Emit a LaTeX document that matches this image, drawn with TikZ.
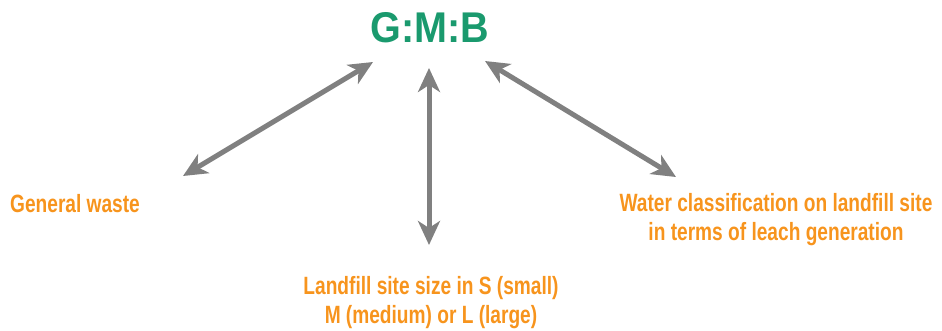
\documentclass[tikz,border=0pt]{standalone}
\usepackage{fontspec}
\setmainfont{Liberation Sans}[FakeStretch=0.765]
\newfontfamily\titlefont{Liberation Sans}[FakeStretch=0.92]
\usetikzlibrary{arrows.meta}
\definecolor{gmbgreen}{HTML}{1A9A6E}
\definecolor{lblorange}{HTML}{F7941D}
\definecolor{arrgray}{HTML}{808080}
\tikzset{
  lbl/.style={text=lblorange, font=\fontsize{25}{29}\selectfont\bfseries, align=center, inner sep=0pt},
  dbl/.style={draw=arrgray, line width=5pt, {Stealth[length=24pt,width=22pt,inset=7pt]}-{Stealth[length=24pt,width=22pt,inset=7pt]}}
}
\begin{document}
\begin{tikzpicture}[x=1pt,y=-1pt]
\useasboundingbox (0,0) rectangle (942,330);
\node[text=gmbgreen, font=\titlefont\fontsize{43}{43}\selectfont\bfseries, inner sep=0pt] (gmb) at (430,28) {G:M:B};
\node[lbl, anchor=west] (gw) at (10,204) {General waste};
\node[lbl] (ls) at (431,303) {Landfill site size in S (small)\\M (medium) or L (large)};
\node[lbl] (wc) at (776,220) {Water classification on landfill site\\in terms of leach generation};
\coordinate (a1) at (183,176);
\coordinate (b1) at (373,62);
\coordinate (a2) at (429,68);
\coordinate (b2) at (429,245);
\coordinate (a3) at (485,61);
\coordinate (b3) at (676,177);
\draw[dbl] (a1) -- (b1);
\draw[dbl] (a2) -- (b2);
\draw[dbl] (a3) -- (b3);
\end{tikzpicture}
\end{document}
